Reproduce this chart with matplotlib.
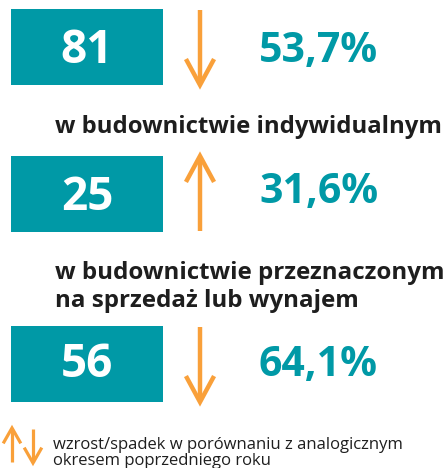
import matplotlib.pyplot as plt
from matplotlib.patches import Rectangle

# data
counts = ["81", "25", "56"]
changes = ["53,7%", "31,6%", "64,1%"]
directions = ["down", "up", "down"]
labels = ["w budownictwie indywidualnym",
          "w budownictwie przeznaczonym\nna sprzedaż lub wynajem"]
legend_text = "wzrost/spadek w porównaniu z analogicznym\nokresem poprzedniego roku"

TEAL = "#0099a6"
ORANGE = "#f9a03a"
DARK = "#1e1e1e"
FONT = "Open Sans"


def arrow(ax, x, y0, y1, up, lw=3, hw=13, hh=24):
    # y0 top, y1 bottom (pixel coords, y grows downward)
    ax.plot([x, x], [y0 + 1, y1 - 1], color=ORANGE, lw=lw, solid_capstyle="butt")
    if up:
        tip, base = y0, y0 + hh
    else:
        tip, base = y1, y1 - hh
    ax.plot([x - hw, x, x + hw], [base, tip, base], color=ORANGE, lw=lw,
            solid_joinstyle="miter")


def main():
    fig = plt.figure(figsize=(4.45, 4.68), dpi=100)
    ax = fig.add_axes([0, 0, 1, 1])
    ax.set_xlim(0, 445)
    ax.set_ylim(468, 0)
    ax.axis("off")

    box_tops = [9, 156, 326]
    num_base = [63, 210, 377]
    pct_base = [62, 203, 376]
    for i in range(3):
        top = box_tops[i]
        ax.add_patch(Rectangle((11, top), 152, 76, color=TEAL, lw=0))
        ax.text(87, num_base[i], counts[i], color="white", fontsize=33,
                fontweight="bold", family=FONT, ha="center", va="baseline")
        arrow(ax, 200, top, top + 76, directions[i] == "up", lw=3.2)
        ax.text(259, pct_base[i], changes[i], color=TEAL, fontsize=29.5,
                fontweight="bold", family=FONT, ha="left", va="baseline")

    ax.text(55, 133, labels[0], color=DARK, fontsize=17.2, fontweight="bold",
            family=FONT, ha="left", va="baseline")
    ax.text(55, 307, labels[1], color=DARK, fontsize=17.4, fontweight="bold",
            family=FONT, ha="left", va="baseline", linespacing=1.2)

    # legend
    arrow(ax, 12, 428, 463, True, lw=2.3, hw=8, hh=14)
    arrow(ax, 33, 428, 463, False, lw=2.3, hw=8, hh=14)
    ax.text(53, 465, legend_text, color=DARK, fontsize=12, family=FONT,
            ha="left", va="baseline", linespacing=1.0)

    fig.savefig("out.png", dpi=100)


if __name__ == "__main__":
    main()
